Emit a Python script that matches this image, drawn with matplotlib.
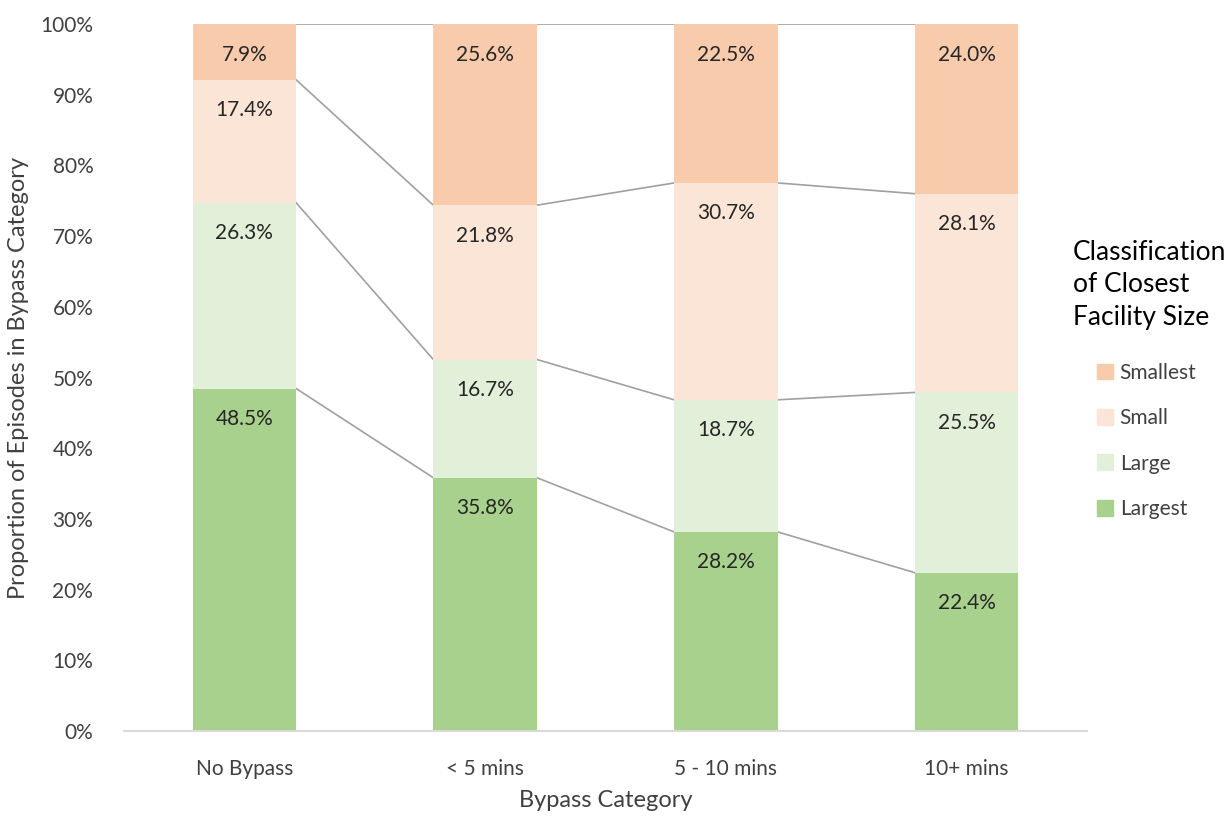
import numpy as np
import matplotlib
matplotlib.use("Agg")
import matplotlib.pyplot as plt
from matplotlib.patches import Patch

plt.rcParams['font.family'] = ['Lato', 'DejaVu Sans']

# ---------------- DATA ----------------
categories = ["No Bypass", "< 5 mins", "5 - 10 mins", "10+ mins"]
series = ["Largest", "Large", "Small", "Smallest"]
largest = [48.5, 35.8, 28.2, 22.4]
large = [26.3, 16.7, 18.7, 25.5]
small = [17.4, 21.8, 30.7, 28.1]
smallest = [7.9, 25.6, 22.5, 24.0]
colors = ["#a9d18e", "#e2f0d9", "#fbe5d6", "#f8cbad"]

values = np.array([largest, large, small, smallest])
# 100% stacked like Excel
shares = values / values.sum(axis=0) * 100

# ---------------- PLOT ----------------
fig = plt.figure(figsize=(12.27, 8.16), dpi=100)
ax = fig.add_axes([0.101, 0.104, 0.785, 0.8666])

x = np.arange(len(categories))
width = 0.43
bottom = np.zeros(len(categories))
for i, name in enumerate(series):
    ax.bar(x, shares[i], width, bottom=bottom, color=colors[i], zorder=2)
    tops = bottom + shares[i]
    for j in range(len(categories)):
        ax.annotate(f"{values[i][j]:.1f}%", (x[j], tops[j]), xytext=(0, -22),
                    textcoords="offset points", ha="center", va="center",
                    fontsize=15, color="#262626", zorder=3)
    # series lines between bars
    for j in range(len(categories) - 1):
        ax.plot([x[j] + width / 2, x[j + 1] - width / 2], [tops[j], tops[j + 1]],
                color="#a0a0a0", lw=1.2, zorder=1)
    bottom = tops

ax.set_xlim(-0.5, len(categories) - 0.5)
ax.set_ylim(0, 100)
ax.set_yticks(np.arange(0, 101, 10))
ax.set_yticklabels([f"{v}%" for v in range(0, 101, 10)])
ax.set_xticks(x)
ax.set_xticklabels(categories)
ax.tick_params(axis="both", length=0, labelsize=15, labelcolor="#404040")
ax.tick_params(axis="x", pad=20)
ax.tick_params(axis="y", pad=22)
for s in ["top", "right", "left"]:
    ax.spines[s].set_visible(False)
ax.spines["bottom"].set_color("#d9d9d9")
ax.spines["bottom"].set_linewidth(1.5)

ax.set_xlabel("Bypass Category", fontsize=17, color="#404040", labelpad=8)
ax.set_ylabel("Proportion of Episodes in Bypass Category", fontsize=17,
              color="#404040", labelpad=8)

# ---------------- LEGEND ----------------
fig.text(1073 / 1227, 1 - 285 / 816, "Classification\nof Closest\nFacility Size",
         fontsize=19, color="#000000", ha="left", va="center", linespacing=1.4)
handles = [Patch(color=colors[i]) for i in range(3, -1, -1)]
labels = [series[i] for i in range(3, -1, -1)]
fig.legend(handles, labels, loc="upper left",
           bbox_to_anchor=(1078 / 1227, 1 - 344 / 816), frameon=False,
           fontsize=15, handlelength=0.8, handleheight=0.8, handletextpad=0.3,
           labelspacing=1.22, labelcolor="#404040")

fig.savefig("out.png", dpi=100)
